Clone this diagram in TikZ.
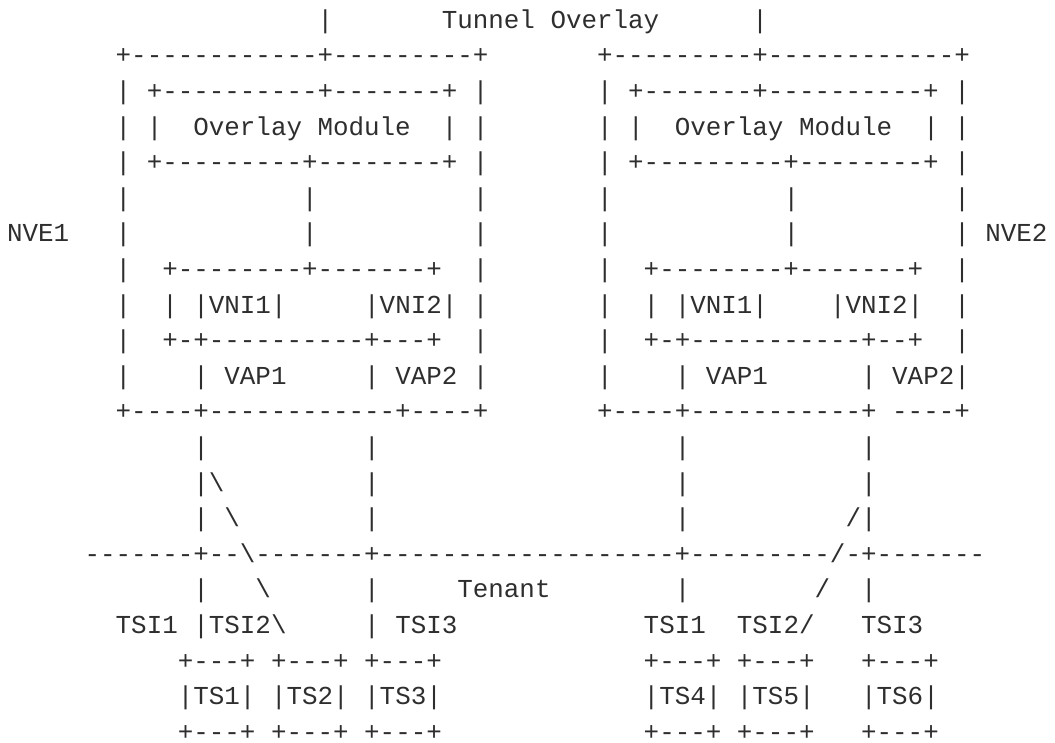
\documentclass[tikz,border=0pt]{standalone}
\usepackage{fontspec}
\setmonofont{Liberation Mono}
\definecolor{ink}{HTML}{2E2E2E}
\newcounter{segn}
\newcommand\asc[3]{\stepcounter{segn}\node[txt,name=s\thesegn] at ({7.0+15.53*#1},{28.3+35.6*(#2-1)}) {#3};}
\begin{document}
\begin{tikzpicture}[x=1pt,y=-1pt,
  txt/.style={anchor=base west,inner sep=0pt,outer sep=0pt,text=ink,
    font=\ttfamily\fontsize{25.88}{30}\selectfont}]
\useasboundingbox (0,0) rectangle (1055,742);
% row 1
\asc{20}{1}{|}\asc{28}{1}{Tunnel}\asc{35}{1}{Overlay}\asc{48}{1}{|}
% row 2
\asc{7}{2}{+------------+---------+}\asc{38}{2}{+---------+------------+}
% row 3
\asc{7}{3}{|}\asc{9}{3}{+----------+-------+}\asc{30}{3}{|}
\asc{38}{3}{|}\asc{40}{3}{+-------+----------+}\asc{61}{3}{|}
% row 4
\asc{7}{4}{|}\asc{9}{4}{|}\asc{12}{4}{Overlay}\asc{20}{4}{Module}\asc{28}{4}{|}\asc{30}{4}{|}
\asc{38}{4}{|}\asc{40}{4}{|}\asc{43}{4}{Overlay}\asc{51}{4}{Module}\asc{59}{4}{|}\asc{61}{4}{|}
% row 5
\asc{7}{5}{|}\asc{9}{5}{+---------+--------+}\asc{30}{5}{|}
\asc{38}{5}{|}\asc{40}{5}{+---------+--------+}\asc{61}{5}{|}
% row 6
\asc{7}{6}{|}\asc{19}{6}{|}\asc{30}{6}{|}\asc{38}{6}{|}\asc{50}{6}{|}\asc{61}{6}{|}
% row 7
\asc{0}{7}{NVE1}\asc{7}{7}{|}\asc{19}{7}{|}\asc{30}{7}{|}\asc{38}{7}{|}\asc{50}{7}{|}\asc{61}{7}{|}\asc{63}{7}{NVE2}
% row 8
\asc{7}{8}{|}\asc{10}{8}{+--------+-------+}\asc{30}{8}{|}
\asc{38}{8}{|}\asc{41}{8}{+--------+-------+}\asc{61}{8}{|}
% row 9
\asc{7}{9}{|}\asc{10}{9}{|}\asc{12}{9}{|VNI1|}\asc{23}{9}{|VNI2|}\asc{30}{9}{|}
\asc{38}{9}{|}\asc{41}{9}{|}\asc{43}{9}{|VNI1|}\asc{53}{9}{|VNI2|}\asc{61}{9}{|}
% row 10
\asc{7}{10}{|}\asc{10}{10}{+-+----------+---+}\asc{30}{10}{|}
\asc{38}{10}{|}\asc{41}{10}{+-+-----------+--+}\asc{61}{10}{|}
% row 11
\asc{7}{11}{|}\asc{12}{11}{|}\asc{14}{11}{VAP1}\asc{23}{11}{|}\asc{25}{11}{VAP2}\asc{30}{11}{|}
\asc{38}{11}{|}\asc{43}{11}{|}\asc{45}{11}{VAP1}\asc{55}{11}{|}\asc{57}{11}{VAP2|}
% row 12
\asc{7}{12}{+----+------------+----+}\asc{38}{12}{+----+-----------+}\asc{57}{12}{----+}
% row 13
\asc{12}{13}{|}\asc{23}{13}{|}\asc{43}{13}{|}\asc{55}{13}{|}
% row 14
\asc{12}{14}{|\textbackslash}\asc{23}{14}{|}\asc{43}{14}{|}\asc{55}{14}{|}
% row 15
\asc{12}{15}{|}\asc{14}{15}{\textbackslash}\asc{23}{15}{|}\asc{43}{15}{|}\asc{54}{15}{/|}
% row 16
\asc{5}{16}{-------+--\textbackslash-------+-------------------+---------/-+-------}
% row 17
\asc{12}{17}{|}\asc{16}{17}{\textbackslash}\asc{23}{17}{|}\asc{29}{17}{Tenant}\asc{43}{17}{|}\asc{52}{17}{/}\asc{55}{17}{|}
% row 18
\asc{7}{18}{TSI1}\asc{12}{18}{|TSI2\textbackslash}\asc{23}{18}{|}\asc{25}{18}{TSI3}
\asc{41}{18}{TSI1}\asc{47}{18}{TSI2/}\asc{55}{18}{TSI3}
% row 19
\asc{11}{19}{+---+}\asc{17}{19}{+---+}\asc{23}{19}{+---+}\asc{41}{19}{+---+}\asc{47}{19}{+---+}\asc{55}{19}{+---+}
% row 20
\asc{11}{20}{|TS1|}\asc{17}{20}{|TS2|}\asc{23}{20}{|TS3|}\asc{41}{20}{|TS4|}\asc{47}{20}{|TS5|}\asc{55}{20}{|TS6|}
% row 21
\asc{11}{21}{+---+}\asc{17}{21}{+---+}\asc{23}{21}{+---+}\asc{41}{21}{+---+}\asc{47}{21}{+---+}\asc{55}{21}{+---+}
\end{tikzpicture}
\end{document}
